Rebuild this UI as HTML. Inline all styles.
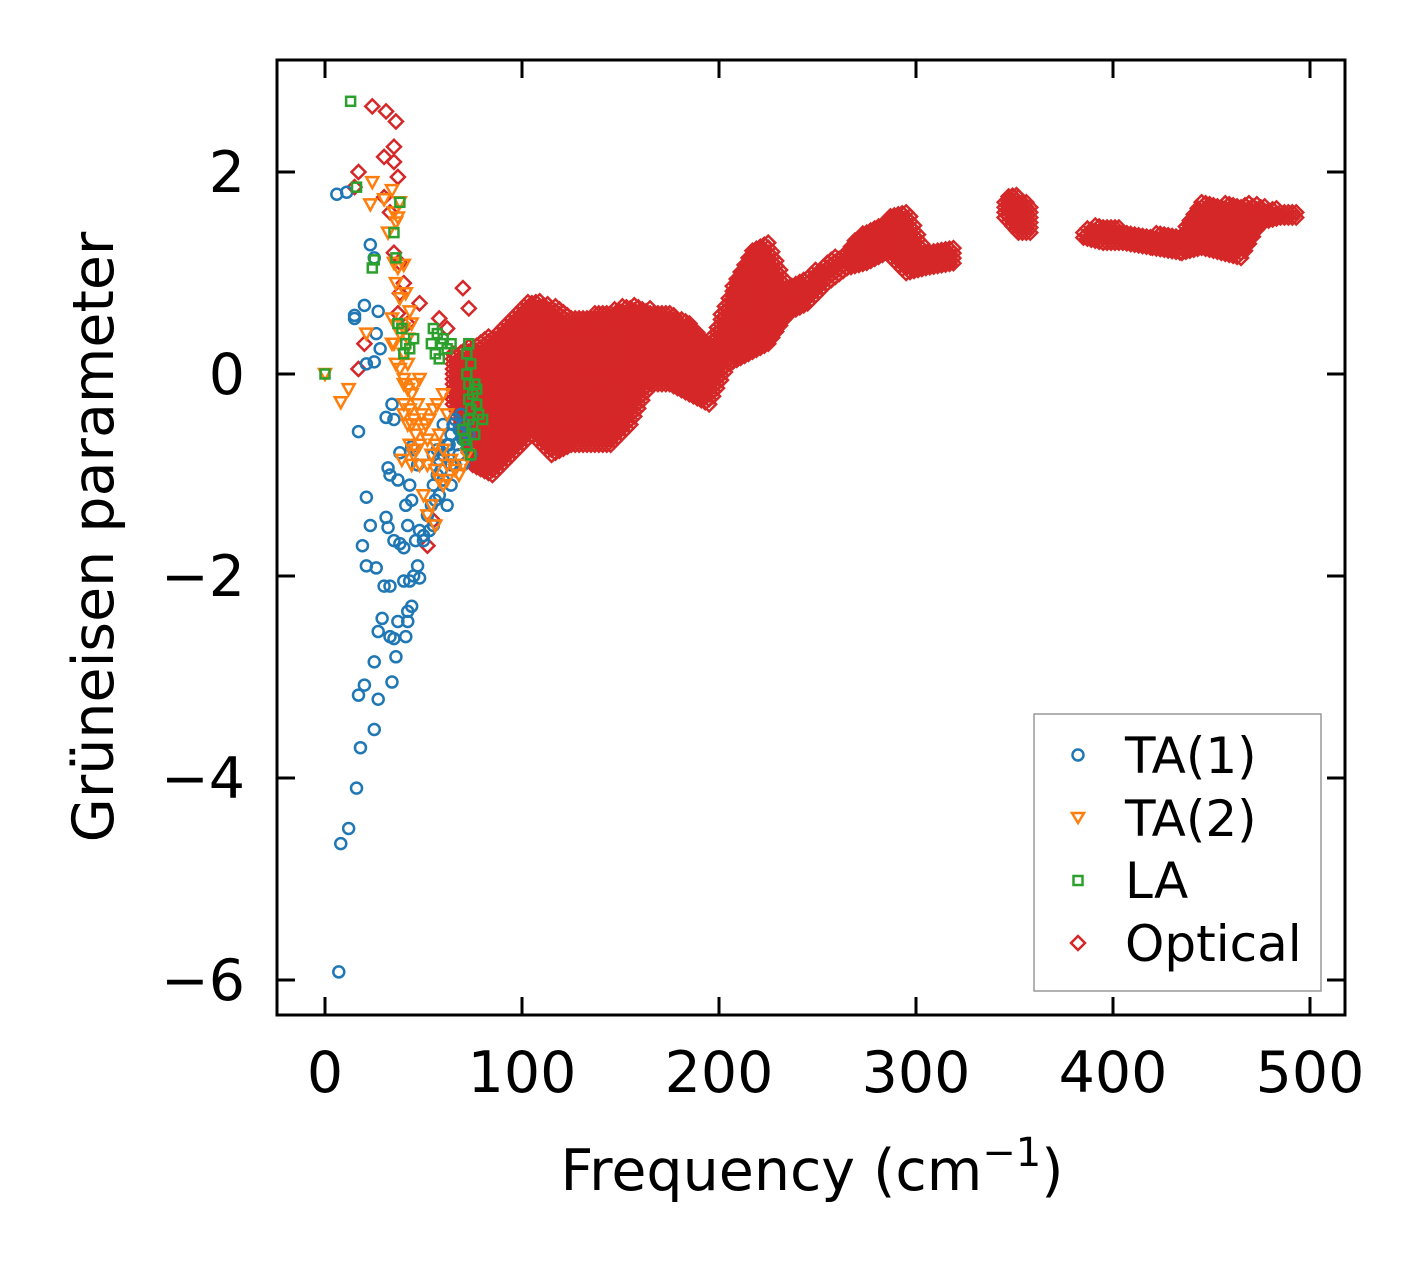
<!DOCTYPE html>
<html><head><meta charset="utf-8"><style>
html,body{margin:0;padding:0;background:#fff;}
svg{display:block;font-family:"DejaVu Sans","Liberation Sans",sans-serif;}
</style></head><body>
<svg id="chart" width="1427" height="1264" viewBox="0 0 1427 1264" xmlns="http://www.w3.org/2000/svg">
<rect width="1427" height="1264" fill="#fff"/>
<defs><clipPath id="clip"><rect x="277" y="60" width="1068" height="955"/></clipPath></defs>
<g id="marks" clip-path="url(#clip)"></g>
<rect x="277" y="60" width="1068" height="955" fill="none" stroke="#000" stroke-width="3"/>
<g id="axes"></g>
<text x="812" y="1190" font-size="57" text-anchor="middle">Frequency (cm<tspan dy="-24" font-size="40">−1</tspan><tspan dy="24">)</tspan></text>
<text transform="translate(113,537) rotate(-90)" font-size="57" text-anchor="middle">Grüneisen parameter</text>
<g>
<rect x="1034" y="714" width="287" height="277" fill="#fff" stroke="#999" stroke-width="1.5"/>
<circle cx="1078" cy="755" r="5.5" fill="none" stroke="#1f77b4" stroke-width="2.5"/>
<text x="1125" y="773" font-size="50">TA(1)</text>
<path d="M1072,813 L1084,813 L1078,823 Z" fill="none" stroke="#ff7f0e" stroke-width="2.5"/>
<text x="1125" y="836" font-size="50">TA(2)</text>
<rect x="1073.5" y="876" width="9" height="9" fill="none" stroke="#2ca02c" stroke-width="2.5"/>
<text x="1125" y="898" font-size="50">LA</text>
<path d="M1078,936 L1085,943 L1078,950 L1071,943 Z" fill="none" stroke="#d62728" stroke-width="2.5"/>
<text x="1125" y="961" font-size="50">Optical</text>
</g>
</svg>
<script>
const xTicks=[0,100,200,300,400,500];
const yTicks=[2,0,-2,-4,-6];
const ta1X=[7,8,12,16,18,17,20,27,25,25,27,29,33,35,34,36,37,41,42,44,42,40,43,45,47,48,30,33,26,21,19,23,21,31,32,35,38,40,42,41,44,43,47,37,32,33,38,44,45,35,31,34,17,15,15,20,21,25,26,27,28,23,25,6,11,50,52,54,55,57,58,60,62,64,65,66,68,70,72,74,56,58,60,62,64,66,68,70,48,50,53,46,55,60,64,67,69,71,73,63,59,57,55];
const ta1Y=[-5.92,-4.65,-4.5,-4.1,-3.7,-3.18,-3.08,-3.22,-3.52,-2.85,-2.55,-2.42,-2.6,-2.62,-3.05,-2.8,-2.45,-2.6,-2.35,-2.3,-2.45,-2.05,-2.05,-2,-1.9,-2.02,-2.1,-2.1,-1.92,-1.9,-1.7,-1.5,-1.22,-1.42,-1.52,-1.65,-1.68,-1.72,-1.5,-1.3,-1.25,-1.1,-0.9,-1.05,-0.93,-1.0,-0.78,-0.72,-0.75,-0.45,-0.43,-0.3,-0.57,0.55,0.58,0.68,0.1,0.12,0.4,0.62,0.25,1.28,1.15,1.78,1.8,-1.6,-1.4,-1.3,-1.1,-1.0,-0.85,-0.8,-0.7,-0.6,-0.5,-0.45,-0.55,-0.65,-0.75,-0.8,-1.25,-1.2,-1.05,-1.3,-1.1,-0.9,-0.8,-0.9,-1.55,-1.65,-1.55,-1.65,-1.5,-0.5,-0.9,-0.7,-0.4,-0.5,-0.6,-0.7,-0.95,-0.75,-0.8];
const ta2X=[0,8,12,21,23,24,30,32,34,35,36,37,38,35,37,40,36,38,41,43,36,38,40,42,44,34,40,42,38,40,42,44,46,48,40,43,45,47,49,51,53,55,57,44,46,48,50,52,54,56,58,60,62,64,66,68,70,72,56,58,60,62,52,48,44,39,50,54,56,52,34,36,42,46,40,35,60,62,40,43,45];
const ta2Y=[0,-0.28,-0.15,0.4,1.68,1.9,1.73,1.4,1.82,1.6,1.5,1.55,1.7,1.1,1.05,1.08,0.9,0.75,0.8,0.62,0.48,0.4,0.45,0.35,0.5,0.3,0.2,0.1,0.05,-0.05,-0.15,-0.2,-0.1,-0.05,-0.3,-0.35,-0.45,-0.3,-0.4,-0.5,-0.45,-0.35,-0.3,-0.5,-0.6,-0.7,-0.55,-0.65,-0.8,-0.7,-0.6,-0.75,-0.9,-0.85,-0.95,-1.0,-0.9,-0.8,-0.95,-1.05,-1.1,-1.05,-0.9,-0.9,-0.9,-0.85,-1.2,-1.3,-1.5,-1.4,0.55,0.1,-0.5,-0.75,-0.1,0.3,-0.2,-0.4,-0.4,-0.7,-0.8];
const laX=[0,13,16,24,25,35,38,36,39,41,43,45,40,37,55,57,59,56,58,60,62,64,73,72,74,72,73,75,76,77,74,73,75,78,80,76,72,74,71,70,77,73,54];
const laY=[0,2.7,1.85,1.05,1.13,1.4,1.7,1.15,0.45,0.3,0.25,0.35,0.2,0.5,0.45,0.4,0.3,0.2,0.15,0.35,0.25,0.3,0.3,0.2,0.1,0,-0.1,-0.2,-0.1,-0.3,-0.35,-0.45,-0.5,-0.4,-0.45,-0.6,-0.7,-0.8,-0.65,-0.55,-0.15,-0.25,0.3];
const optX=[24,31,36,35,30,35,17,37,15,30,33,35,38,40,38,42,37,20,17,48,70,73,58,55,52,62,66];
const optY=[2.65,2.6,2.5,2.25,2.15,2.1,2.0,1.95,1.85,1.75,1.6,1.2,1.1,0.9,0.8,0.5,0.6,0.3,0.05,0.7,0.85,0.65,0.55,-1.45,-1.7,0.45,0.2];
// dense optical band envelope: frequency, lower and upper gamma
const bandF=[65,75,85,95,105,115,125,135,145,155,165,175,185,195,205,215,225,235,245,255,265,275,285,295,305,320,345,352,360,385,395,405,420,435,445,455,465,475,485,495];
const bandLo=[-0.3,-0.9,-1.0,-0.8,-0.6,-0.8,-0.7,-0.7,-0.7,-0.5,-0.1,-0.1,-0.2,-0.3,0.1,0.2,0.3,0.6,0.7,0.9,1.05,1.1,1.2,1.0,1.05,1.1,1.55,1.4,1.4,1.35,1.3,1.3,1.25,1.2,1.25,1.2,1.15,1.5,1.55,1.55];
const bandHi=[0.2,0.3,0.4,0.6,0.75,0.7,0.6,0.6,0.65,0.7,0.65,0.6,0.5,0.3,0.8,1.2,1.35,0.9,1.0,1.1,1.25,1.45,1.55,1.65,1.25,1.25,1.75,1.8,1.6,1.45,1.5,1.45,1.4,1.4,1.75,1.7,1.7,1.68,1.65,1.6];

const X0=277,X1=1345,Y0=60,Y1=1015;
const xs=v=>325+v*1.97;
const ys=v=>374-v*101;
const NS='http://www.w3.org/2000/svg';
const marks=document.getElementById('marks');
const axes=document.getElementById('axes');
function mk(tag,attrs,parent){const e=document.createElementNS(NS,tag);for(const k in attrs)e.setAttribute(k,attrs[k]);parent.appendChild(e);return e;}

xTicks.forEach(t=>{const x=xs(t);
 let l=mk('line',{x1:x,x2:x,y1:Y1,y2:Y1-18,stroke:'#000','stroke-width':3},axes);
 
 
 let l2=mk('line',{x1:x,x2:x,y1:Y0,y2:Y0+18,stroke:'#000','stroke-width':3},axes);
 
 
 let tx=mk('text',{x:x,y:1092,'font-size':57,'text-anchor':'middle'},axes);tx.textContent=String(t);
 
 
});
yTicks.forEach(t=>{const y=ys(t);
 let l=mk('line',{x1:X0,x2:X0+18,y1:y,y2:y,stroke:'#000','stroke-width':3},axes);
 
 
 let l2=mk('line',{x1:X1,x2:X1-18,y1:y,y2:y,stroke:'#000','stroke-width':3},axes);
 
 
 let tx=mk('text',{x:245,y:y+20,'font-size':57,'text-anchor':'end'},axes);tx.textContent=(t<0?'−':'')+Math.abs(t);
 
 
});

function diamond(f,g,parent){const x=xs(f),y=ys(g);
 const p=mk('path',{d:`M${x},${y-7} L${x+7},${y} L${x},${y+7} L${x-7},${y} Z`,fill:'none',stroke:'#d62728','stroke-width':2.5},parent);
 
 }

const gO=mk('g',{},marks);


for(let i=0;i<bandF.length-1;i++){
 if(bandF[i+1]-bandF[i]>20) continue;
 for(let f=bandF[i];f<bandF[i+1];f+=2){
  const t=(f-bandF[i])/(bandF[i+1]-bandF[i]);
  const lo=bandLo[i]+(bandLo[i+1]-bandLo[i])*t, hi=bandHi[i]+(bandHi[i+1]-bandHi[i])*t;
  for(let g=lo;g<=hi;g+=0.05) diamond(f,g,gO);
 }
}
optX.forEach((f,i)=>diamond(f,optY[i],gO));

const g1=mk('g',{},marks);


ta1X.forEach((f,i)=>{const c=mk('circle',{cx:xs(f),cy:ys(ta1Y[i]),r:5.5,fill:'none',stroke:'#1f77b4','stroke-width':2.5},g1);
 
 });
const g2=mk('g',{},marks);


ta2X.forEach((f,i)=>{const x=xs(f),y=ys(ta2Y[i]);const p=mk('path',{d:`M${x-6},${y-5} L${x+6},${y-5} L${x},${y+6} Z`,fill:'none',stroke:'#ff7f0e','stroke-width':2.5},g2);
 
 });
const g3=mk('g',{},marks);


laX.forEach((f,i)=>{const r=mk('rect',{x:xs(f)-4.5,y:ys(laY[i])-4.5,width:9,height:9,fill:'none',stroke:'#2ca02c','stroke-width':2.5},g3);
 
 });
</script>
</body></html>
